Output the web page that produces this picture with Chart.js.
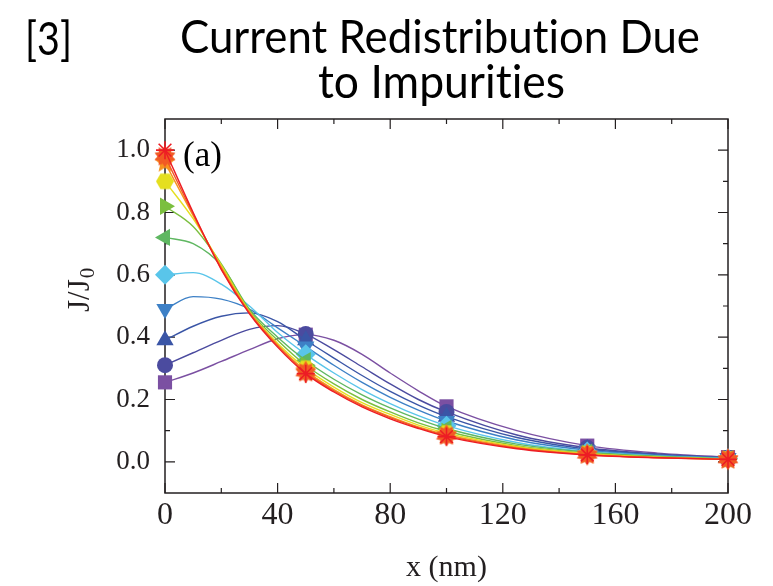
<!DOCTYPE html>
<html lang="en">
<head>
    <meta charset="UTF-8">
    <title>Current Redistribution Due to Impurities</title>
    <script src="https://cdn.jsdelivr.net/npm/chart.js"></script>
    <style>
        body { margin: 0; background: #fff; }
        #wrap { position: relative; width: 773px; height: 586px; overflow: hidden; }
        #curChart { position: absolute; left: 0; top: 0; }
        .hd { position: absolute; font-family: Lato, "Open Sans", sans-serif; font-size: 47px; line-height: 1; color: #000; white-space: nowrap; transform-origin: 0 0; font-variant-ligatures: none; }
    </style>
</head>
<body>
<div id="wrap">
    <canvas id="curChart" width="773" height="586"></canvas>
    <div class="hd" id="ref" data-w="47" data-x="25" style="top:14px">[3]</div>
    <div class="hd" id="t1" data-w="520" data-x="180" style="top:12px">Current Redistribution Due</div>
    <div class="hd" id="t2" data-w="247" data-x="318" style="top:57px">to Impurities</div>
</div>

<script>
    // positions along x (nm)
    const xs = [0, 10, 20, 30, 40, 50, 60, 70, 80, 90, 100, 125, 150, 175, 200];

    // J/J0, one list per curve
    const redAst     = [1.00, 0.80, 0.617, 0.475, 0.368, 0.283, 0.224, 0.176, 0.138, 0.107, 0.081, 0.042, 0.022, 0.013, 0.008];
    const redOrange  = [0.98, 0.795, 0.62, 0.478, 0.372, 0.287, 0.228, 0.180, 0.142, 0.110, 0.084, 0.044, 0.023, 0.013, 0.008];
    const orangeStar = [0.96, 0.79, 0.625, 0.480, 0.375, 0.292, 0.232, 0.183, 0.145, 0.112, 0.087, 0.046, 0.024, 0.014, 0.008];
    const yellowHex  = [0.90, 0.78, 0.630, 0.482, 0.380, 0.300, 0.240, 0.190, 0.152, 0.118, 0.092, 0.049, 0.026, 0.015, 0.009];
    const limeRight  = [0.82, 0.755, 0.635, 0.485, 0.390, 0.310, 0.250, 0.200, 0.160, 0.125, 0.098, 0.052, 0.028, 0.016, 0.009];
    const greenLeft  = [0.72, 0.70, 0.630, 0.490, 0.400, 0.325, 0.265, 0.215, 0.173, 0.137, 0.107, 0.057, 0.031, 0.018, 0.010];
    const cyanDiam   = [0.60, 0.607, 0.570, 0.500, 0.415, 0.345, 0.285, 0.232, 0.187, 0.148, 0.116, 0.062, 0.033, 0.019, 0.011];
    const blueDown   = [0.49, 0.530, 0.522, 0.490, 0.430, 0.370, 0.310, 0.255, 0.207, 0.166, 0.131, 0.070, 0.037, 0.021, 0.012];
    const blueUp     = [0.39, 0.435, 0.467, 0.478, 0.450, 0.390, 0.333, 0.277, 0.226, 0.182, 0.145, 0.078, 0.041, 0.023, 0.013];
    const indigoCirc = [0.31, 0.35, 0.390, 0.425, 0.437, 0.410, 0.360, 0.305, 0.250, 0.200, 0.160, 0.086, 0.045, 0.025, 0.013];
    const purpleSq   = [0.255, 0.285, 0.322, 0.360, 0.395, 0.408, 0.390, 0.345, 0.285, 0.228, 0.178, 0.100, 0.052, 0.028, 0.015];

    const xTicks = [0, 40, 80, 120, 160, 200];
    const yTicks = [0.0, 0.2, 0.4, 0.6, 0.8, 1.0];

    function makeMark(size, draw) {
        const c = document.createElement('canvas');
        c.width = size; c.height = size;
        draw(c.getContext('2d'), size / 2);
        return c;
    }
    function starPath(ctx, c, n, rOut, rIn, rot) {
        ctx.beginPath();
        for (let i = 0; i < n * 2; i++) {
            const r = i % 2 ? rIn : rOut;
            const a = rot + i * Math.PI / n;
            ctx.lineTo(c + r * Math.sin(a), c - r * Math.cos(a));
        }
        ctx.closePath();
    }
    const hexMark = makeMark(22, (ctx, c) => {
        ctx.beginPath();
        for (let i = 0; i < 6; i++) {
            const a = i * Math.PI / 3;
            ctx.lineTo(c + 9 * Math.cos(a), c + 9 * Math.sin(a));
        }
        ctx.closePath();
        ctx.fillStyle = '#e5df1f';
        ctx.fill();
    });
    const starMark = makeMark(24, (ctx, c) => {
        starPath(ctx, c, 5, 11, 5, 0);
        ctx.fillStyle = '#f7931e';
        ctx.fill();
    });
    const burstMark = makeMark(24, (ctx, c) => {
        starPath(ctx, c, 10, 11, 7.5, 0);
        ctx.fillStyle = '#f15a24';
        ctx.fill();
    });

    const curves = [
        { data: redAst,     color: '#ed1c24', style: 'star',     r: 9,  rot: 0,   w: 1.6 },
        { data: redOrange,  color: '#f15a24', style: burstMark,  r: 9,  rot: 0 },
        { data: orangeStar, color: '#f7931e', style: starMark,   r: 9,  rot: 0 },
        { data: yellowHex,  color: '#e5df1f', style: hexMark,    r: 9,  rot: 0 },
        { data: limeRight,  color: '#7bbf3f', style: 'triangle', r: 10, rot: 90 },
        { data: greenLeft,  color: '#5fb761', style: 'triangle', r: 10, rot: -90 },
        { data: cyanDiam,   color: '#59c5ea', style: 'rectRot',  r: 10, rot: 0 },
        { data: blueDown,   color: '#3d80c6', style: 'triangle', r: 10, rot: 180 },
        { data: blueUp,     color: '#3a55a6', style: 'triangle', r: 10, rot: 0 },
        { data: indigoCirc, color: '#4b4b9f', style: 'circle',   r: 8,  rot: 0 },
        { data: purpleSq,   color: '#7b50a2', style: 'rect',     r: 10, rot: 0 }
    ];

    const datasets = curves.map(s => ({
        data: xs.map((x, i) => ({ x: x, y: s.data[i] })),
        borderColor: s.color,
        backgroundColor: s.color,
        borderWidth: 1.4,
        pointBorderColor: s.color,
        pointBackgroundColor: s.color,
        pointBorderWidth: s.w || 0,
        pointStyle: s.style,
        pointRotation: s.rot,
        pointRadius: xs.map(x => x % 50 === 0 ? s.r : 0),
        cubicInterpolationMode: 'monotone',
        clip: false
    }));

    const serif = '"Liberation Serif", "Times New Roman", serif';
    const ink = '#231f20';

    // frame, inward ticks, y title and panel tag
    const decor = {
        id: 'decor',
        beforeDatasetsDraw(chart) {
            const { ctx, chartArea: a, scales } = chart;
            ctx.save();
            ctx.strokeStyle = ink;
            ctx.lineWidth = 1.5;
            ctx.strokeRect(a.left, a.top, a.right - a.left, a.bottom - a.top);
            ctx.lineWidth = 1.2;
            ctx.beginPath();
            for (let v = 0; v <= 200; v += 20) {
                const px = scales.x.getPixelForValue(v);
                const len = v % 40 === 0 ? 10 : 5;
                ctx.moveTo(px, a.bottom); ctx.lineTo(px, a.bottom - len);
                ctx.moveTo(px, a.top); ctx.lineTo(px, a.top + len);
            }
            for (let k = 0; k <= 10; k++) {
                const py = scales.y.getPixelForValue(k / 10);
                const len = k % 2 === 0 ? 10 : 5;
                ctx.moveTo(a.left, py); ctx.lineTo(a.left + len, py);
                ctx.moveTo(a.right, py); ctx.lineTo(a.right - len, py);
            }
            ctx.stroke();
            ctx.restore();
        },
        afterDraw(chart) {
            const { ctx } = chart;
            ctx.save();
            ctx.fillStyle = ink;
            ctx.translate(89, 312);
            ctx.rotate(-Math.PI / 2);
            ctx.font = '31px ' + serif;
            ctx.textBaseline = 'alphabetic';
            ctx.fillText('J/J', 0, 0);
            const w = ctx.measureText('J/J').width;
            ctx.font = '21px ' + serif;
            ctx.fillText('0', w + 1, 5);
            ctx.restore();

            ctx.save();
            ctx.fillStyle = '#000';
            ctx.font = '35px ' + serif;
            ctx.textBaseline = 'middle';
            ctx.fillText('(a)', 183, 157);
            ctx.restore();
        }
    };

    new Chart(document.getElementById('curChart'), {
        type: 'line',
        data: { datasets: datasets },
        options: {
            responsive: false,
            animation: false,
            layout: { padding: { left: 0, top: 119, right: 45, bottom: 0 } },
            plugins: { legend: { display: false }, tooltip: { enabled: false } },
            scales: {
                x: {
                    type: 'linear', min: 0, max: 200,
                    grid: { display: false, drawTicks: false },
                    border: { display: false },
                    afterBuildTicks: s => { s.ticks = xTicks.map(v => ({ value: v })); },
                    afterFit: s => { s.height = 93; },
                    ticks: { font: { family: serif, size: 32 }, color: ink, padding: 3, maxRotation: 0 },
                    title: { display: true, text: 'x (nm)', font: { family: serif, size: 30 }, color: ink, padding: { top: 0, bottom: 0 } }
                },
                y: {
                    min: -0.1, max: 1.1,
                    grid: { display: false, drawTicks: false },
                    border: { display: false },
                    afterBuildTicks: s => { s.ticks = yTicks.map(v => ({ value: v })); },
                    afterFit: s => { s.width = 165; },
                    ticks: { font: { family: serif, size: 27 }, color: ink, padding: 15, callback: v => v.toFixed(1) }
                }
            }
        },
        plugins: [decor]
    });

    // squeeze heading text to the width of the original lines
    document.querySelectorAll('.hd').forEach(el => {
        const k = +el.dataset.w / el.offsetWidth;
        el.style.left = el.dataset.x + 'px';
        el.style.transform = 'scaleX(' + k + ')';
    });
</script>
</body>
</html>
